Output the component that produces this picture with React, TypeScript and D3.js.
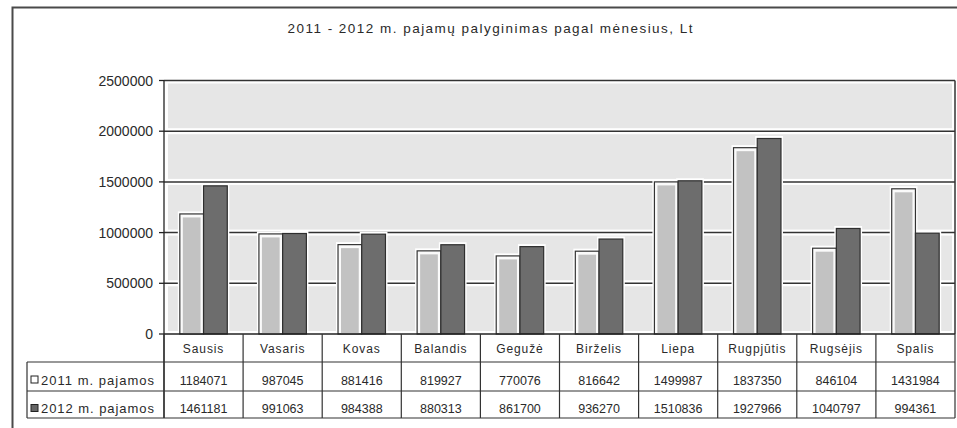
import React from "react";
import * as d3 from "d3";

const months = ["Sausis", "Vasaris", "Kovas", "Balandis", "Gegužė", "Birželis", "Liepa", "Rugpjūtis", "Rugsėjis", "Spalis"];
const income2011 = [1184071, 987045, 881416, 819927, 770076, 816642, 1499987, 1837350, 846104, 1431984];
const income2012 = [1461181, 991063, 984388, 880313, 861700, 936270, 1510836, 1927966, 1040797, 994361];
const seriesNames = ["2011 m. pajamos", "2012 m. pajamos"];
const yTicks = [0, 500000, 1000000, 1500000, 2000000, 2500000];
const title = "2011 - 2012 m. pajamų palyginimas pagal mėnesius, Lt";

const W = 957, H = 428;
const L = 164, R = 955, T = 80.5, B = 334;
const rowLines = [362, 391, 418];
const legendLeft = 27;
const FONT = "'Liberation Sans', Arial, sans-serif";
const INK = "#2a2a2a";

export default function App() {
  const x = d3.scaleBand<string>().domain(months).range([L, R]).paddingInner(0).paddingOuter(0);
  const inner = d3.scaleBand<string>().domain(["a", "b"]).range([0, x.bandwidth() * 0.6]).padding(0);
  const groupOff = (x.bandwidth() - x.bandwidth() * 0.6) / 2;
  const y = d3.scaleLinear().domain([0, 2500000]).range([B, T]);
  const series = [income2011, income2012];
  const bounds = months.map((m) => x(m) as number).concat([R]);

  return (
    <svg width={W} height={H} style={{ position: "absolute", left: 0, top: 0, background: "#fff" }} fontFamily={FONT}>
      <rect x={0} y={0} width={W} height={H} fill="#fff" />
      {/* outer frame */}
      <rect x={12.5} y={7.5} width={W + 20} height={H + 20} fill="none" stroke="#4a4a4a" strokeWidth={2} />
      <text x={490} y={33} textAnchor="middle" fontSize={13.5} fill={INK} textLength={405} lengthAdjust="spacing">{title}</text>

      {/* plot bands */}
      {yTicks.slice(0, -1).map((t, i) => (
        <rect key={"band" + i} x={L + 4} y={y(yTicks[i + 1]) + 3} width={R - L - 7} height={y(t) - y(yTicks[i + 1]) - 6} fill="#e6e6e6" />
      ))}
      {/* gridlines */}
      {yTicks.slice(1).map((t) => (
        <line key={"g" + t} x1={L} x2={R} y1={y(t)} y2={y(t)} stroke="#333" strokeWidth={1.5} />
      ))}
      <line x1={R} x2={R} y1={T} y2={B} stroke="#333" strokeWidth={1.5} />

      {/* bars */}
      {months.map((m, i) => (
        <g key={m} transform={`translate(${(x(m) as number) + groupOff},0)`}>
          {series.map((s, k) => {
            const bx = inner(k === 0 ? "a" : "b") as number;
            const bw = inner.bandwidth();
            const by = y(s[i]);
            return <rect key={"h" + k} x={bx - 2} y={by - 2.5} width={bw + 4} height={B - by + 2.5} fill="#fff" />;
          })}
          {series.map((s, k) => {
            const bx = inner(k === 0 ? "a" : "b") as number;
            const bw = inner.bandwidth();
            const by = y(s[i]);
            return k === 0 ? (
              <g key={"b" + k}>
                <rect x={bx} y={by} width={bw} height={B - by} fill="#fafafa" stroke="#333" strokeWidth={1.2} />
                <rect x={bx + 3} y={by + 3.5} width={bw - 6} height={Math.max(0, B - by - 4)} fill="#c2c2c2" />
              </g>
            ) : (
              <rect key={"b" + k} x={bx} y={by} width={bw} height={B - by} fill="#6d6d6d" stroke="#2e2e2e" strokeWidth={1.2} />
            );
          })}
        </g>
      ))}

      {/* y axis */}
      <line x1={L} x2={L} y1={T} y2={rowLines[2]} stroke="#222" strokeWidth={1.3} />
      {yTicks.map((t) => (
        <g key={"t" + t}>
          <line x1={L - 5} x2={L} y1={y(t)} y2={y(t)} stroke="#222" strokeWidth={1.3} />
          <text x={153} y={y(t) + 5} textAnchor="end" fontSize={14} fill={INK}>{t}</text>
        </g>
      ))}

      {/* x axis / table top */}
      <line x1={L} x2={R} y1={B} y2={B} stroke="#222" strokeWidth={1.3} />
      {bounds.map((bx, i) => (
        <line key={"v" + i} x1={bx} x2={bx} y1={B} y2={rowLines[2]} stroke="#333" strokeWidth={1.2} />
      ))}
      {rowLines.map((ry, i) => (
        <line key={"r" + i} x1={legendLeft} x2={R} y1={ry} y2={ry} stroke="#333" strokeWidth={1.2} />
      ))}
      <line x1={legendLeft} x2={legendLeft} y1={rowLines[0]} y2={rowLines[2]} stroke="#333" strokeWidth={1.2} />

      {/* month labels */}
      {months.map((m) => (
        <text key={"m" + m} x={(x(m) as number) + x.bandwidth() / 2} y={353} textAnchor="middle" fontSize={12} letterSpacing={0.9} fill={INK}>{m}</text>
      ))}

      {/* legend rows */}
      {series.map((s, k) => {
        const base = k === 0 ? 384.5 : 413;
        return (
          <g key={"row" + k}>
            <rect x={31} y={base - 8.5} width={7} height={7} fill={k === 0 ? "#fff" : "#666"} stroke="#222" strokeWidth={1} />
            <text x={41} y={base} fontSize={13} fill={INK} textLength={113} lengthAdjust="spacing">{seriesNames[k]}</text>
            {months.map((m, i) => (
              <text key={"c" + i} x={(x(m) as number) + x.bandwidth() / 2} y={base} textAnchor="middle" fontSize={12.5} fill={INK}>{s[i]}</text>
            ))}
          </g>
        );
      })}
    </svg>
  );
}
